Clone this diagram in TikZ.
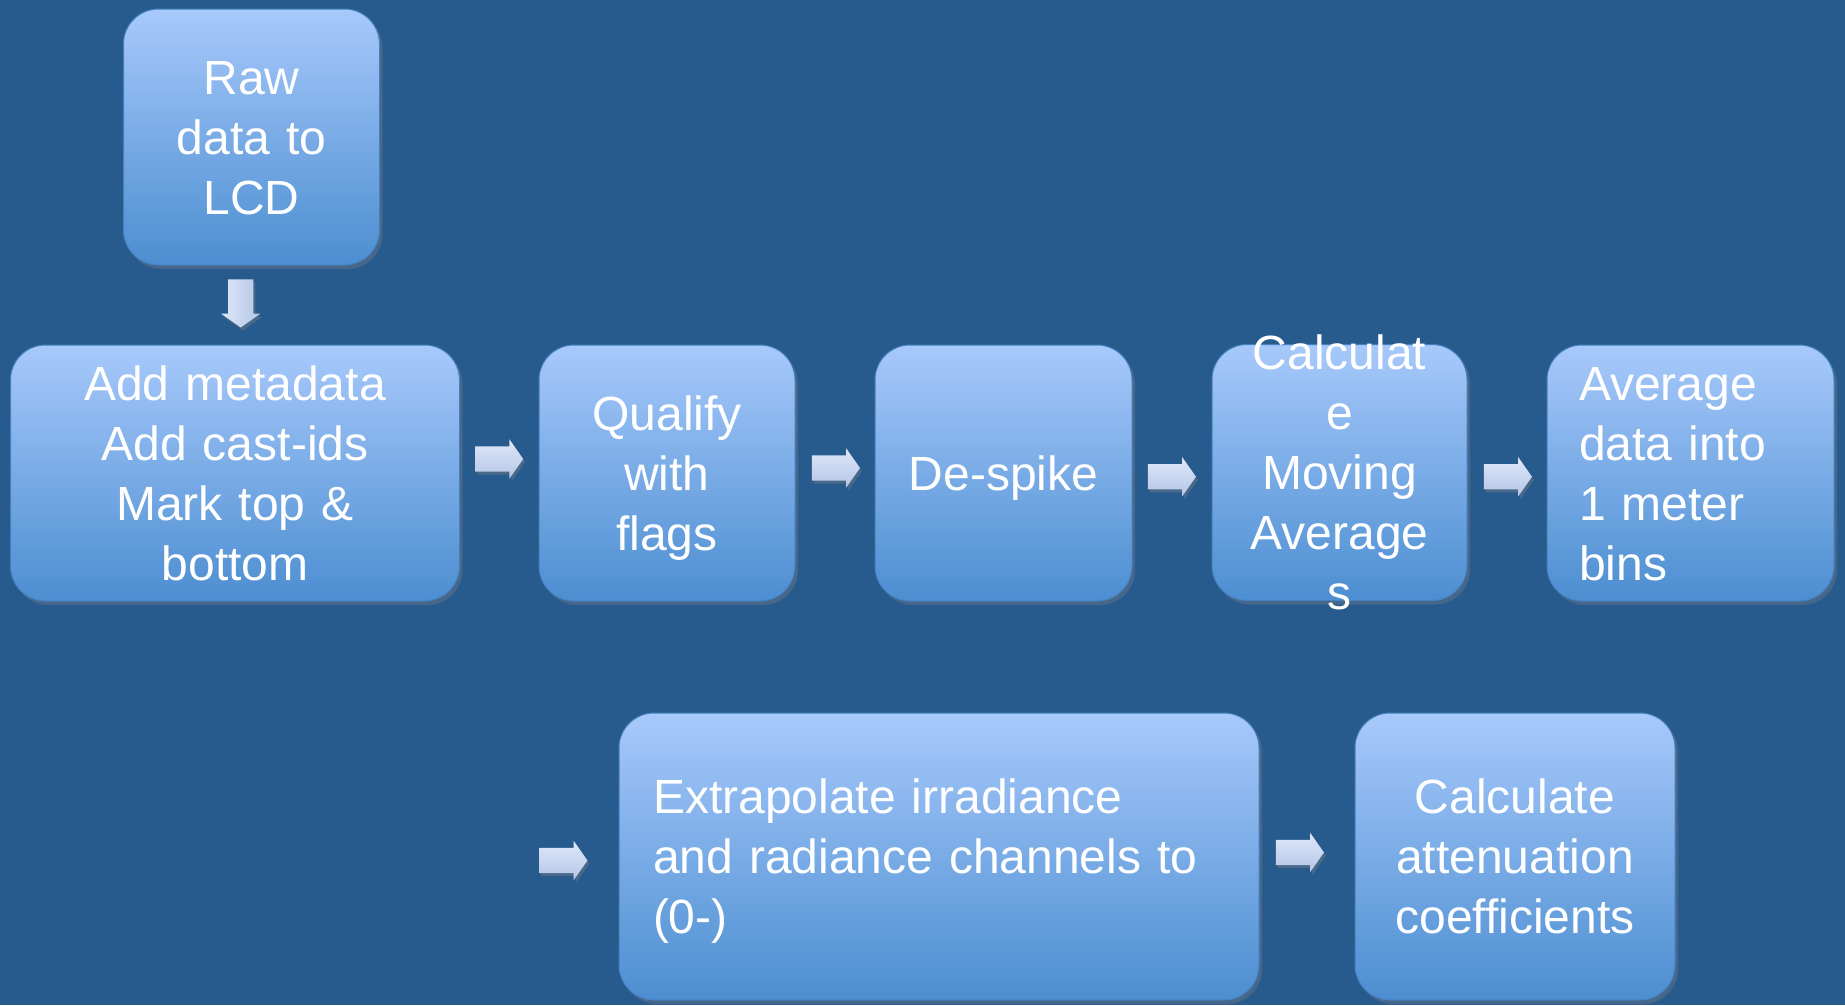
\documentclass[tikz,border=0pt]{standalone}
\usepackage{fontspec}
\setmainfont{Liberation Sans}
\definecolor{bgblue}{RGB}{39, 91, 142}
\definecolor{boxtop}{RGB}{167, 201, 251}
\definecolor{boxbot}{RGB}{76, 142, 209}
\definecolor{boxline}{RGB}{70, 128, 190}
\definecolor{arrtop}{RGB}{222, 232, 249}
\definecolor{arrbot}{RGB}{180, 197, 230}
\usetikzlibrary{calc, shapes.arrows, shadows}
\newcommand{\boxstrut}{\rule[-12pt]{0pt}{58pt}}
\tikzset{
    stepbox/.style={rounded corners=35pt, top color=boxtop, bottom color=boxbot,
        draw=boxline, line width=1pt, minimum height=256pt, inner sep=0pt,
        text=white, align=center, text width=220pt, font=\fontsize{48}{60}\selectfont,
        execute at begin node=\boxstrut, execute at end node=\boxstrut,
        drop shadow={opacity=.35, shadow xshift=3pt, shadow yshift=-4pt}},
    steptext/.style={text=white, align=center, text width=240pt, inner sep=0pt,
        font=\fontsize{48}{60}\selectfont,
        execute at begin node=\boxstrut, execute at end node=\boxstrut},
    blockarrow/.style={single arrow, top color=arrtop, bottom color=arrbot,
        minimum height=48pt, inner xsep=0pt, inner ysep=12.5pt,
        single arrow head extend=7pt, single arrow tip angle=110,
        drop shadow={opacity=.4, shadow xshift=2pt, shadow yshift=-3pt}},
    downarrow/.style={blockarrow, rotate=-90, left color=arrtop, right color=arrbot},
}
\begin{document}
\begin{tikzpicture}[x=1pt, y=-1pt]
    \fill[bgblue] (0, 0) rectangle (1845, 1005);
    \useasboundingbox (0, 0) rectangle (1845, 1005);
    \node[stepbox, minimum width=256pt] (raw) at (251.5, 137) {Raw\\data to\\LCD};
    \node[stepbox, minimum width=449pt, text width=420pt] (meta) at (235, 473)
        {Add metadata\\Add cast-ids\\Mark top \&\\bottom};
    \node[stepbox, minimum width=256pt] (qualify) at (667, 473) {Qualify\\with\\flags};
    \node[stepbox, minimum width=257pt] (despike) at (1003.5, 473) {De-spike};
    \node[stepbox, minimum width=255pt, text width=200pt] (movavg) at (1339.5, 472.5) {};
    \node[steptext] (movavgtext) at (movavg) {Calculat\\e\\Moving\\Average\\s};
    \node[stepbox, minimum width=287pt, text width=223pt, align=left] (binavg)
        at (1690.5, 473) {Average\\data into\\1 meter\\bins};
    \node[stepbox, minimum width=640pt, minimum height=287pt, text width=572pt,
        align=left] (extrap) at (939, 856.5)
        {Extrapolate irradiance\\and radiance channels to\\(0-)};
    \node[stepbox, minimum width=320pt, minimum height=287pt, text width=300pt] (atten)
        at (1515, 856.5) {Calculate\\attenuation\\coefficients};
    \node[downarrow] (down) at ($(raw.south)!.5!(meta.north) + (-2.5, -6)$) {};
    \node[blockarrow] (arr1) at ($(meta.east)!.5!(qualify.west) + (-4.5, -14)$) {};
    \node[blockarrow] (arr2) at ($(qualify.east)!.5!(despike.west) + (-3.5, -5)$) {};
    \node[blockarrow] (arr3) at ($(despike.east)!.5!(movavg.west) + (-4.5, 4)$) {};
    \node[blockarrow] (arr4) at ($(movavg.east)!.5!(binavg.west) + (-3.5, 4)$) {};
    \node[blockarrow] (arr5) at ($(extrap.west) + (-59.5, 4)$) {};
    \node[blockarrow] (arr6) at ($(extrap.east)!.5!(atten.west) + (-11.5, -4)$) {};
\end{tikzpicture}
\end{document}
